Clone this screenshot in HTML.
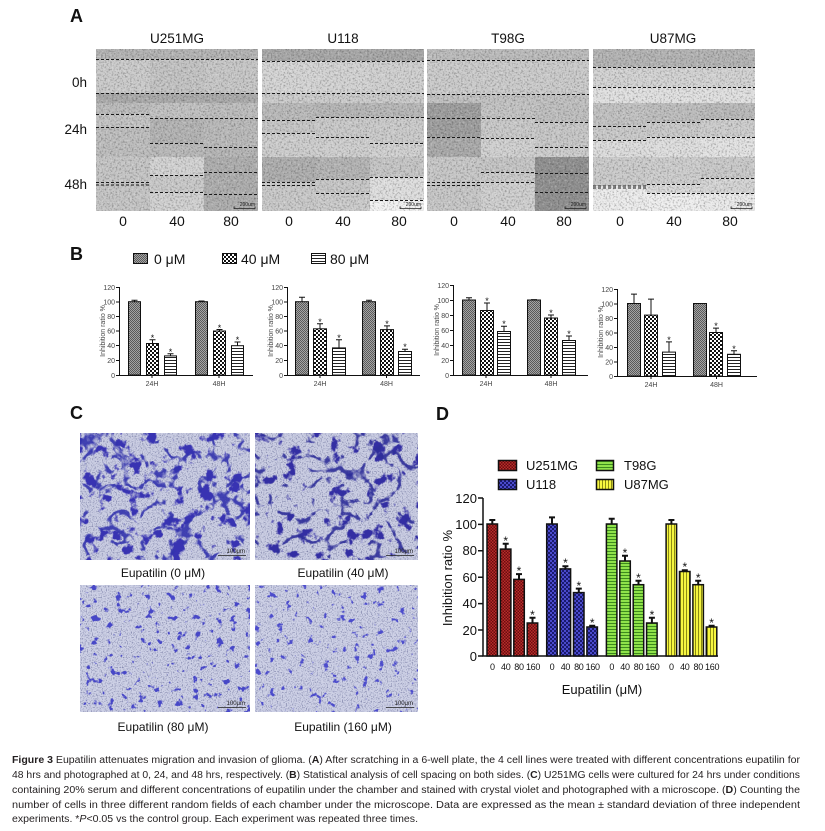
<!DOCTYPE html>
<html><head><meta charset="utf-8"><style>
html,body{margin:0;padding:0;background:#fff;}
svg{display:block;font-family:"Liberation Sans",Arial,sans-serif;}
</style></head><body>
<svg width="825" height="831" viewBox="0 0 825 831" xmlns="http://www.w3.org/2000/svg">
<defs>
<filter id="nA" x="0" y="0" width="100%" height="100%" color-interpolation-filters="sRGB">
<feTurbulence type="fractalNoise" baseFrequency="0.55" numOctaves="2" seed="3"/>
<feColorMatrix type="matrix" values="0 0 0 0 0.2  0 0 0 0 0.2  0 0 0 0 0.2  2.5 0 0 0 -1.2"/>
</filter>
<filter id="nAw" x="0" y="0" width="100%" height="100%" color-interpolation-filters="sRGB">
<feTurbulence type="fractalNoise" baseFrequency="0.5" numOctaves="2" seed="8"/>
<feColorMatrix type="matrix" values="0 0 0 0 1  0 0 0 0 1  0 0 0 0 1  2.5 0 0 0 -1.2"/>
</filter>
<filter id="spk" x="0" y="0" width="100%" height="100%" color-interpolation-filters="sRGB">
<feTurbulence type="fractalNoise" baseFrequency="0.8" numOctaves="1" seed="4"/>
<feColorMatrix type="matrix" values="0 0 0 0 0.35  0 0 0 0 0.37  0 0 0 0 0.55  3 0 0 0 -1.45"/>
</filter>
<filter id="bl1" x="0" y="0" width="100%" height="100%" color-interpolation-filters="sRGB">
<feTurbulence type="fractalNoise" baseFrequency="0.07" numOctaves="4" seed="9"/>
<feColorMatrix type="matrix" values="0 0 0 0 0.22  0 0 0 0 0.2  0 0 0 0 0.7  10 0 0 0 -5.8"/>
</filter>
<filter id="bl2" x="0" y="0" width="100%" height="100%" color-interpolation-filters="sRGB">
<feTurbulence type="fractalNoise" baseFrequency="0.07" numOctaves="4" seed="13"/>
<feColorMatrix type="matrix" values="0 0 0 0 0.2  0 0 0 0 0.18  0 0 0 0 0.64  10 0 0 0 -6.0"/>
</filter>
<filter id="vn1" x="0" y="0" width="100%" height="100%" color-interpolation-filters="sRGB">
<feTurbulence type="turbulence" baseFrequency="0.035" numOctaves="3" seed="21"/>
<feColorMatrix type="matrix" values="0 0 0 0 0.2  0 0 0 0 0.2  0 0 0 0 0.68  -12 0 0 0 2.0"/>
</filter>
<filter id="vn2" x="0" y="0" width="100%" height="100%" color-interpolation-filters="sRGB">
<feTurbulence type="turbulence" baseFrequency="0.035" numOctaves="3" seed="27"/>
<feColorMatrix type="matrix" values="0 0 0 0 0.18  0 0 0 0 0.18  0 0 0 0 0.6  -12 0 0 0 2.0"/>
</filter>
<filter id="bs1" x="0" y="0" width="100%" height="100%" color-interpolation-filters="sRGB">
<feTurbulence type="fractalNoise" baseFrequency="0.13" numOctaves="3" seed="5"/>
<feColorMatrix type="matrix" values="0 0 0 0 0.28  0 0 0 0 0.28  0 0 0 0 0.78  12 0 0 0 -7.7"/>
</filter>
<filter id="bs2" x="0" y="0" width="100%" height="100%" color-interpolation-filters="sRGB">
<feTurbulence type="fractalNoise" baseFrequency="0.13" numOctaves="3" seed="17"/>
<feColorMatrix type="matrix" values="0 0 0 0 0.3  0 0 0 0 0.3  0 0 0 0 0.8  12 0 0 0 -7.9"/>
</filter>
<pattern id="pG" width="2" height="2" patternUnits="userSpaceOnUse"><rect width="2" height="2" fill="#a4a4a4"/><rect width="1" height="1" fill="#5a5a5a"/><rect x="1" y="1" width="1" height="1" fill="#5a5a5a"/></pattern>
<pattern id="pC" width="4" height="4" patternUnits="userSpaceOnUse"><rect width="4" height="4" fill="#fff"/><rect width="2" height="2" fill="#111"/><rect x="2" y="2" width="2" height="2" fill="#111"/></pattern>
<pattern id="pS" width="3" height="3" patternUnits="userSpaceOnUse"><rect width="3" height="3" fill="#fff"/><rect width="3" height="1" fill="#222"/></pattern>
<pattern id="pR" width="3" height="3" patternUnits="userSpaceOnUse"><rect width="3" height="3" fill="#b82c2c"/><rect width="1.5" height="1.5" fill="#6a0e0e"/><rect x="1.5" y="1.5" width="1.5" height="1.5" fill="#6a0e0e"/></pattern>
<pattern id="pB" width="4" height="4" patternUnits="userSpaceOnUse"><rect width="4" height="4" fill="#4a4acc"/><rect width="2" height="2" fill="#1a1a6e"/><rect x="2" y="2" width="2" height="2" fill="#1a1a6e"/></pattern>
<pattern id="pGr" width="3" height="3" patternUnits="userSpaceOnUse"><rect width="3" height="3" fill="#8fe24a"/><rect y="2" width="3" height="1" fill="#3d8a1e"/></pattern>
<pattern id="pY" width="3" height="3" patternUnits="userSpaceOnUse"><rect width="3" height="3" fill="#f6f640"/><rect x="2" width="1" height="3" fill="#8c8c14"/></pattern>
</defs>
<rect width="825" height="831" fill="#fff"/>

<!-- ========== PANEL A ========== -->
<text x="70" y="22" font-size="18" font-weight="bold" fill="#111">A</text>
<g font-size="13.5" fill="#111" text-anchor="middle">
<text x="177" y="43">U251MG</text><text x="343" y="43">U118</text><text x="508" y="43">T98G</text><text x="673" y="43">U87MG</text>
</g>
<g font-size="13.5" fill="#111" text-anchor="end">
<text x="87" y="87">0h</text><text x="87" y="134">24h</text><text x="87" y="189">48h</text>
</g>
<g font-size="14" fill="#111" text-anchor="middle">
<text x="123" y="226">0</text><text x="177" y="226">40</text><text x="231" y="226">80</text>
<text x="289" y="226">0</text><text x="343" y="226">40</text><text x="399" y="226">80</text>
<text x="454" y="226">0</text><text x="508" y="226">40</text><text x="564" y="226">80</text>
<text x="620" y="226">0</text><text x="674" y="226">40</text><text x="730" y="226">80</text>
</g>

<g transform="translate(96,0)">
<rect x="0" y="49" width="162" height="10" fill="#b2b2b2"/>
<rect x="0" y="59" width="54" height="34" fill="#cacaca"/><rect x="54" y="59" width="54" height="34" fill="#c2c2c2"/><rect x="108" y="59" width="54" height="34" fill="#c6c6c6"/>
<rect x="0" y="93" width="162" height="10" fill="#a8a8a8"/>
<rect x="0" y="103" width="54" height="11" fill="#bababa"/><rect x="0" y="114" width="54" height="13" fill="#c2c2c2"/><rect x="0" y="127" width="54" height="30" fill="#bcbcbc"/>
<rect x="54" y="103" width="54" height="15" fill="#c0c0c0"/><rect x="54" y="118" width="54" height="25" fill="#b2b2b2"/><rect x="54" y="143" width="54" height="14" fill="#b8b8b8"/>
<rect x="108" y="103" width="54" height="15" fill="#bcbcbc"/><rect x="108" y="118" width="54" height="29" fill="#b8b8b8"/><rect x="108" y="147" width="54" height="10" fill="#b4b4b4"/>
<rect x="0" y="157" width="54" height="54" fill="#c4c4c4"/>
<rect x="54" y="157" width="54" height="18" fill="#d2d2d2"/><rect x="54" y="175" width="54" height="17" fill="#c8c8c8"/><rect x="54" y="192" width="54" height="19" fill="#d0d0d0"/>
<rect x="108" y="157" width="54" height="54" fill="#acacac"/>
<rect x="0" y="49" width="162" height="162" filter="url(#nA)" opacity="0.45"/>
<rect x="0" y="49" width="162" height="162" filter="url(#nAw)" opacity="0.3"/>
<path d="M0 59.5H162M0 93.5H162M0 114.5H54M0 127.5H54M54 118.5H162M54 143.5H108M108 147.5H162M0 182.5H54M0 185H54M54 175.5H108M54 192.5H108M108 172.5H162M108 194.5H162" stroke="#1a1a1a" stroke-width="1" stroke-dasharray="3 2" fill="none"/>
<text x="159" y="206" font-size="5" text-anchor="end" fill="#222">200um</text>
<path d="M138 208.5H159M138 206.5V209M159 206.5V209" stroke="#222" stroke-width="0.7" fill="none"/>
</g>

<g transform="translate(262,0)">
<rect x="0" y="49" width="162" height="12" fill="#a6a6a6"/>
<rect x="0" y="61" width="54" height="32" fill="#d4d4d4"/><rect x="54" y="61" width="54" height="32" fill="#d2d2d2"/><rect x="108" y="61" width="54" height="32" fill="#cfcfcf"/>
<rect x="0" y="93" width="162" height="10" fill="#cacaca"/>
<rect x="0" y="103" width="54" height="17" fill="#b8b8b8"/><rect x="0" y="120" width="54" height="13" fill="#c4c4c4"/><rect x="0" y="133" width="54" height="24" fill="#cccccc"/>
<rect x="54" y="103" width="54" height="14" fill="#b4b4b4"/><rect x="54" y="117" width="54" height="20" fill="#c8c8c8"/><rect x="54" y="137" width="54" height="20" fill="#cecece"/>
<rect x="108" y="103" width="54" height="14" fill="#b6b6b6"/><rect x="108" y="117" width="54" height="26" fill="#cacaca"/><rect x="108" y="143" width="54" height="14" fill="#d0d0d0"/>
<rect x="0" y="157" width="54" height="25" fill="#acacac"/><rect x="0" y="182" width="54" height="29" fill="#c8c8c8"/>
<rect x="54" y="157" width="54" height="22" fill="#b2b2b2"/><rect x="54" y="179" width="54" height="14" fill="#c6c6c6"/><rect x="54" y="193" width="54" height="18" fill="#cacaca"/>
<rect x="108" y="157" width="54" height="20" fill="#c4c4c4"/><rect x="108" y="177" width="54" height="23" fill="#dedede"/><rect x="108" y="200" width="54" height="11" fill="#f2f2f2"/>
<rect x="0" y="49" width="162" height="162" filter="url(#nA)" opacity="0.45"/>
<rect x="0" y="49" width="162" height="162" filter="url(#nAw)" opacity="0.3"/>
<path d="M0 61.5H162M0 93.5H162M0 120.5H54M0 133.5H54M54 117.5H162M54 137.5H108M108 143.5H162M0 182.5H54M0 185.5H54M54 179.5H108M54 193.5H108M108 177.5H162M108 200.5H162" stroke="#1a1a1a" stroke-width="1" stroke-dasharray="3 2" fill="none"/>
<text x="159" y="206" font-size="5" text-anchor="end" fill="#222">200um</text>
<path d="M138 208.5H159M138 206.5V209M159 206.5V209" stroke="#222" stroke-width="0.7" fill="none"/>
</g>

<g transform="translate(427,0)">
<rect x="0" y="49" width="162" height="11" fill="#bababa"/>
<rect x="0" y="60" width="162" height="34" fill="#cacaca"/>
<rect x="0" y="94" width="162" height="9" fill="#c0c0c0"/>
<rect x="0" y="103" width="54" height="34" fill="#9c9c9c"/><rect x="0" y="137" width="54" height="20" fill="#a8a8a8"/>
<rect x="54" y="103" width="54" height="15" fill="#c2c2c2"/><rect x="54" y="118" width="54" height="20" fill="#c8c8c8"/><rect x="54" y="138" width="54" height="19" fill="#d0d0d0"/>
<rect x="108" y="103" width="54" height="19" fill="#bebebe"/><rect x="108" y="122" width="54" height="25" fill="#c6c6c6"/><rect x="108" y="147" width="54" height="10" fill="#cccccc"/>
<rect x="0" y="157" width="54" height="54" fill="#c6c6c6"/>
<rect x="54" y="157" width="54" height="15" fill="#c4c4c4"/><rect x="54" y="172" width="54" height="10" fill="#c8c8c8"/><rect x="54" y="182" width="54" height="29" fill="#cecece"/>
<rect x="108" y="157" width="54" height="54" fill="#8e8e8e"/>
<rect x="0" y="49" width="162" height="162" filter="url(#nA)" opacity="0.45"/>
<rect x="0" y="49" width="162" height="162" filter="url(#nAw)" opacity="0.3"/>
<path d="M0 60.5H162M0 94.5H162M0 118.5H108M0 137.5H54M54 138.5H108M108 122.5H162M108 147.5H162M0 182.5H54M0 185.5H54M54 172.5H108M54 182.5H108M108 173.5H162M108 192.5H162" stroke="#1a1a1a" stroke-width="1" stroke-dasharray="3 2" fill="none"/>
<text x="159" y="206" font-size="5" text-anchor="end" fill="#222">200um</text>
<path d="M138 208.5H159M138 206.5V209M159 206.5V209" stroke="#222" stroke-width="0.7" fill="none"/>
</g>

<g transform="translate(593,0)">
<rect x="0" y="49" width="162" height="18" fill="#b2b2b2"/>
<rect x="0" y="67" width="162" height="20" fill="#d2d2d2"/>
<rect x="0" y="87" width="162" height="16" fill="#e0e0e0"/>
<rect x="0" y="103" width="54" height="23" fill="#c0c0c0"/><rect x="0" y="126" width="54" height="14" fill="#c8c8c8"/><rect x="0" y="140" width="54" height="17" fill="#dcdcdc"/>
<rect x="54" y="103" width="54" height="19" fill="#bcbcbc"/><rect x="54" y="122" width="54" height="15" fill="#c8c8c8"/><rect x="54" y="137" width="54" height="20" fill="#dedede"/>
<rect x="108" y="103" width="54" height="16" fill="#b8b8b8"/><rect x="108" y="119" width="54" height="18" fill="#cccccc"/><rect x="108" y="137" width="54" height="20" fill="#e2e2e2"/>
<rect x="0" y="157" width="54" height="29" fill="#cacaca"/><rect x="0" y="186" width="54" height="25" fill="#ececec"/>
<rect x="54" y="157" width="54" height="27" fill="#cccccc"/><rect x="54" y="184" width="54" height="9" fill="#d8d8d8"/><rect x="54" y="193" width="54" height="18" fill="#eeeeee"/>
<rect x="108" y="157" width="54" height="21" fill="#c8c8c8"/><rect x="108" y="178" width="54" height="15" fill="#d4d4d4"/><rect x="108" y="193" width="54" height="18" fill="#eaeaea"/>
<rect x="0" y="49" width="162" height="162" filter="url(#nA)" opacity="0.45"/>
<rect x="0" y="49" width="162" height="162" filter="url(#nAw)" opacity="0.3"/>
<path d="M0 67.5H162M0 87.5H162M0 126.5H54M0 140.5H54M54 122.5H108M54 137.5H162M108 119.5H162M0 186H54M0 188H54M54 184.5H108M54 193.5H108M108 178.5H162M108 193.5H162" stroke="#1a1a1a" stroke-width="1" stroke-dasharray="3 2" fill="none"/>
<text x="159" y="206" font-size="5" text-anchor="end" fill="#222">200um</text>
<path d="M138 208.5H159M138 206.5V209M159 206.5V209" stroke="#222" stroke-width="0.7" fill="none"/>
</g>

<!-- ========== PANEL B ========== -->
<text x="70" y="260" font-size="18" font-weight="bold" fill="#111">B</text>
<rect x="133.5" y="253.5" width="14" height="10" fill="url(#pG)" stroke="#111" stroke-width="1"/>
<rect x="222.5" y="253.5" width="14" height="10" fill="url(#pC)" stroke="#111" stroke-width="1"/>
<rect x="311.5" y="253.5" width="14" height="10" fill="url(#pS)" stroke="#111" stroke-width="1"/>
<g font-size="14" fill="#111">
<text x="154" y="264">0 μM</text><text x="241" y="264">40 μM</text><text x="330" y="264">80 μM</text>
</g>

<!-- B1 -->
<g stroke="#111" fill="none" stroke-width="1">
<path d="M119.5 287V375.5H253"/>
<path d="M116 287.5H119.5M116 302H119.5M116 316.5H119.5M116 331H119.5M116 345.5H119.5M116 360.5H119.5M116 375.5H119.5"/>
<path d="M152 375.5V378M219 375.5V378"/>
</g>
<g font-size="7" fill="#444" text-anchor="end">
<text x="115" y="290">120</text><text x="115" y="304.5">100</text><text x="115" y="319">80</text><text x="115" y="333.5">60</text><text x="115" y="348">40</text><text x="115" y="363">20</text><text x="115" y="378">0</text>
</g>
<text transform="translate(105,331) rotate(-90)" font-size="7" fill="#444" text-anchor="middle">Inhibition ratio %</text>
<g font-size="7" fill="#444" text-anchor="middle"><text x="152" y="386">24H</text><text x="219" y="386">48H</text></g>
<g stroke="#111" stroke-width="1">
<rect x="128.5" y="301.7" width="12" height="73.3" fill="url(#pG)"/>
<rect x="146.5" y="343.5" width="12" height="31.5" fill="url(#pC)"/>
<rect x="164.5" y="355.9" width="12" height="19.1" fill="url(#pS)"/>
<rect x="195.5" y="301.7" width="12" height="73.3" fill="url(#pG)"/>
<rect x="213.5" y="331" width="12" height="44" fill="url(#pC)"/>
<rect x="231.5" y="345.7" width="12" height="29.3" fill="url(#pS)"/>
<path d="M134.5 301.7V300.2M131.5 300.2H137.5M152.5 343.5V339.8M149.5 339.8H155.5M170.5 355.9V353.7M167.5 353.7H173.5M201.5 301.7V301M198.5 301H204.5M219.5 331V329.5M216.5 329.5H222.5M237.5 345.7V342M234.5 342H240.5" fill="none"/>
</g>
<g font-size="9" fill="#111" text-anchor="middle"><text x="152.5" y="341">*</text><text x="170.5" y="355">*</text><text x="219.5" y="331">*</text><text x="237.5" y="343">*</text></g>

<!-- B2 -->
<g stroke="#111" fill="none" stroke-width="1">
<path d="M287.5 287V375.5H420"/>
<path d="M284 287.5H287.5M284 302H287.5M284 316.5H287.5M284 331H287.5M284 345.5H287.5M284 360.5H287.5M284 375.5H287.5"/>
<path d="M320 375.5V378M386.5 375.5V378"/>
</g>
<g font-size="7" fill="#444" text-anchor="end">
<text x="283" y="290">120</text><text x="283" y="304.5">100</text><text x="283" y="319">80</text><text x="283" y="333.5">60</text><text x="283" y="348">40</text><text x="283" y="363">20</text><text x="283" y="378">0</text>
</g>
<text transform="translate(273,331) rotate(-90)" font-size="7" fill="#444" text-anchor="middle">Inhibition ratio %</text>
<g font-size="7" fill="#444" text-anchor="middle"><text x="320" y="386">24H</text><text x="386.5" y="386">48H</text></g>
<g stroke="#111" stroke-width="1">
<rect x="295.5" y="301.7" width="13" height="73.3" fill="url(#pG)"/>
<rect x="313.5" y="328.8" width="13" height="46.2" fill="url(#pC)"/>
<rect x="332.5" y="347.9" width="13" height="27.1" fill="url(#pS)"/>
<rect x="362.5" y="301.7" width="13" height="73.3" fill="url(#pG)"/>
<rect x="380.5" y="329.6" width="13" height="45.4" fill="url(#pC)"/>
<rect x="398.5" y="351.5" width="13" height="23.5" fill="url(#pS)"/>
<path d="M302 301.7V297.3M299 297.3H305M320 328.8V323.7M317 323.7H323M339 347.9V339.8M336 339.8H342M369 301.7V300.2M366 300.2H372M387 329.6V325.9M384 325.9H390M405 351.5V349.3M402 349.3H408" fill="none"/>
</g>
<g font-size="9" fill="#111" text-anchor="middle"><text x="320" y="325">*</text><text x="339" y="341">*</text><text x="387" y="327">*</text><text x="405" y="350">*</text></g>

<!-- B3 -->
<g stroke="#111" fill="none" stroke-width="1">
<path d="M453.5 285V375.5H588"/>
<path d="M450 285.5H453.5M450 300.5H453.5M450 315.5H453.5M450 330.5H453.5M450 345.5H453.5M450 360.5H453.5M450 375.5H453.5"/>
<path d="M486 375.5V378M551 375.5V378"/>
</g>
<g font-size="7" fill="#444" text-anchor="end">
<text x="449" y="288">120</text><text x="449" y="303">100</text><text x="449" y="318">80</text><text x="449" y="333">60</text><text x="449" y="348">40</text><text x="449" y="363">20</text><text x="449" y="378">0</text>
</g>
<text transform="translate(439,330) rotate(-90)" font-size="7" fill="#444" text-anchor="middle">Inhibition ratio %</text>
<g font-size="7" fill="#444" text-anchor="middle"><text x="486" y="386">24H</text><text x="551" y="386">48H</text></g>
<g stroke="#111" stroke-width="1">
<rect x="462.5" y="300" width="13" height="75" fill="url(#pG)"/>
<rect x="480.5" y="310.5" width="13" height="64.5" fill="url(#pC)"/>
<rect x="497.5" y="331.5" width="13" height="43.5" fill="url(#pS)"/>
<rect x="527.5" y="300" width="13" height="75" fill="url(#pG)"/>
<rect x="544.5" y="318" width="13" height="57" fill="url(#pC)"/>
<rect x="562.5" y="340.5" width="13" height="34.5" fill="url(#pS)"/>
<path d="M469 300V297.7M466 297.7H472M487 310.5V303M484 303H490M504 331.5V326.2M501 326.2H507M534 299.6H534M531 299.6H537M551 318V315M548 315H554M569 340.5V336M566 336H572" fill="none"/>
</g>
<g font-size="9" fill="#111" text-anchor="middle"><text x="487" y="304">*</text><text x="504" y="327">*</text><text x="551" y="316">*</text><text x="569" y="337">*</text></g>

<!-- B4 -->
<g stroke="#111" fill="none" stroke-width="1">
<path d="M617.5 289V376.5H757"/>
<path d="M614 289.5H617.5M614 304H617.5M614 318.5H617.5M614 333H617.5M614 347.5H617.5M614 362H617.5M614 376.5H617.5"/>
<path d="M651 376.5V379M716.5 376.5V379"/>
</g>
<g font-size="7" fill="#444" text-anchor="end">
<text x="613" y="292">120</text><text x="613" y="306.5">100</text><text x="613" y="321">80</text><text x="613" y="335.5">60</text><text x="613" y="350">40</text><text x="613" y="364.5">20</text><text x="613" y="379">0</text>
</g>
<text transform="translate(603,332) rotate(-90)" font-size="7" fill="#444" text-anchor="middle">Inhibition ratio %</text>
<g font-size="7" fill="#444" text-anchor="middle"><text x="651" y="387">24H</text><text x="716.5" y="387">48H</text></g>
<g stroke="#111" stroke-width="1">
<rect x="627.5" y="303.5" width="13" height="72.5" fill="url(#pG)"/>
<rect x="644.5" y="315.1" width="13" height="60.9" fill="url(#pC)"/>
<rect x="662.5" y="352.1" width="13" height="23.9" fill="url(#pS)"/>
<rect x="693.5" y="303.5" width="13" height="72.5" fill="url(#pG)"/>
<rect x="709.5" y="332.5" width="13" height="43.5" fill="url(#pC)"/>
<rect x="727.5" y="354.3" width="13" height="21.7" fill="url(#pS)"/>
<path d="M634 303.5V294.1M631 294.1H637M651 315.1V299.1M648 299.1H654M669 352.1V341.9M666 341.9H672M716 332.5V328.1M713 328.1H719M734 354.3V350.7M731 350.7H737" fill="none"/>
</g>
<g font-size="9" fill="#111" text-anchor="middle"><text x="669" y="343">*</text><text x="716" y="329">*</text><text x="734" y="352">*</text></g>

<!-- ========== PANEL C ========== -->
<text x="70" y="419" font-size="18" font-weight="bold" fill="#111">C</text>
<g>
<rect x="80" y="433" width="170" height="127" fill="#cbcee3"/>
<rect x="80" y="433" width="170" height="127" filter="url(#spk)" opacity="0.75"/>
<rect x="80" y="433" width="170" height="127" filter="url(#bl1)"/>
<rect x="80" y="433" width="170" height="127" filter="url(#vn1)" opacity="0.9"/>
<rect x="255" y="433" width="163" height="127" fill="#cbcee3"/>
<rect x="255" y="433" width="163" height="127" filter="url(#spk)" opacity="0.75"/>
<rect x="255" y="433" width="163" height="127" filter="url(#bl2)"/>
<rect x="255" y="433" width="163" height="127" filter="url(#vn2)" opacity="0.9"/>
<rect x="80" y="585" width="170" height="127" fill="#ced1e6"/>
<rect x="80" y="585" width="170" height="127" filter="url(#spk)" opacity="0.75"/>
<rect x="80" y="585" width="170" height="127" filter="url(#bs1)"/>
<rect x="255" y="585" width="163" height="127" fill="#ced1e6"/>
<rect x="255" y="585" width="163" height="127" filter="url(#spk)" opacity="0.75"/>
<rect x="255" y="585" width="163" height="127" filter="url(#bs2)"/>
</g>
<g font-size="6" fill="#222" text-anchor="end">
<text x="245" y="553">100μm</text><text x="413" y="553">100μm</text><text x="245" y="705">100μm</text><text x="413" y="705">100μm</text>
</g>
<path d="M218 555.5H246M386 555.5H414M218 707.5H246M386 707.5H414" stroke="#222" stroke-width="0.7"/>
<g font-size="12" fill="#111" text-anchor="middle">
<text x="163" y="577">Eupatilin (0 μM)</text><text x="343" y="577">Eupatilin (40 μM)</text>
<text x="163" y="731">Eupatilin (80 μM)</text><text x="343" y="731">Eupatilin (160 μM)</text>
</g>

<!-- ========== PANEL D ========== -->
<text x="436" y="420" font-size="18" font-weight="bold" fill="#111">D</text>
<g stroke="#111" stroke-width="1.5">
<rect x="498.5" y="460.5" width="18" height="10" fill="url(#pR)"/>
<rect x="498.5" y="479.5" width="18" height="10" fill="url(#pB)"/>
<rect x="596.5" y="460.5" width="17" height="10" fill="url(#pGr)"/>
<rect x="596.5" y="479.5" width="17" height="10" fill="url(#pY)"/>
</g>
<g font-size="13" fill="#111">
<text x="526" y="470">U251MG</text><text x="526" y="489">U118</text><text x="624" y="470">T98G</text><text x="624" y="489">U87MG</text>
</g>
<g stroke="#111" stroke-width="1.5" fill="none">
<path d="M483 498V656H718"/>
<path d="M478 498H483M478 524.4H483M478 550.8H483M478 577.2H483M478 603.6H483M478 630H483M478 656H483"/>
</g>
<g font-size="13" fill="#111" text-anchor="end">
<text x="477" y="503">120</text><text x="477" y="529">100</text><text x="477" y="555">80</text><text x="477" y="582">60</text><text x="477" y="608">40</text><text x="477" y="635">20</text><text x="477" y="661">0</text>
</g>
<text transform="translate(452,578) rotate(-90)" font-size="13" fill="#111" text-anchor="middle">Inhibition ratio %</text>
<g stroke="#111" stroke-width="1.5">
<rect x="487" y="524" width="10.5" height="132" fill="url(#pR)"/>
<rect x="500.4" y="549.1" width="10.5" height="106.9" fill="url(#pR)"/>
<rect x="513.8" y="579.4" width="10.5" height="76.6" fill="url(#pR)"/>
<rect x="527.2" y="623" width="10.5" height="33" fill="url(#pR)"/>
<rect x="546.7" y="524" width="10.5" height="132" fill="url(#pB)"/>
<rect x="560.1" y="568.9" width="10.5" height="87.1" fill="url(#pB)"/>
<rect x="573.5" y="592.6" width="10.5" height="63.4" fill="url(#pB)"/>
<rect x="586.9" y="627" width="10.5" height="29" fill="url(#pB)"/>
<rect x="606.4" y="524" width="10.5" height="132" fill="url(#pGr)"/>
<rect x="619.8" y="561" width="10.5" height="95" fill="url(#pGr)"/>
<rect x="633.2" y="584.7" width="10.5" height="71.3" fill="url(#pGr)"/>
<rect x="646.6" y="623" width="10.5" height="33" fill="url(#pGr)"/>
<rect x="666.1" y="524" width="10.5" height="132" fill="url(#pY)"/>
<rect x="679.5" y="571.5" width="10.5" height="84.5" fill="url(#pY)"/>
<rect x="692.9" y="584.7" width="10.5" height="71.3" fill="url(#pY)"/>
<rect x="706.3" y="627" width="10.5" height="29" fill="url(#pY)"/>
</g>
<g stroke="#111" stroke-width="2" fill="none">
<path d="M492.3 524V520M489.3 520H495.3M505.7 549V543.8M502.7 543.8H508.7M519 579.4V574.1M516 574.1H522M532.5 623V617.7M529.5 617.7H535.5"/>
<path d="M552 524V517.4M549 517.4H555M565.4 569V566.3M562.4 566.3H568.4M578.8 592.6V588.6M575.8 588.6H581.8M592.2 627V625.7M589.2 625.7H595.2"/>
<path d="M611.7 524V518.7M608.7 518.7H614.7M625 561V555.7M622 555.7H628M638.5 584.7V580.7M635.5 580.7H641.5M651.9 623V617.7M648.9 617.7H654.9"/>
<path d="M671.4 524V520M668.4 520H674.4M684.8 571.5V570.2M681.8 570.2H687.8M698.2 584.7V580.7M695.2 580.7H701.2M711.6 627V625.7M708.6 625.7H714.6"/>
</g>
<g font-size="12" fill="#111" text-anchor="middle">
<text x="505.7" y="545">*</text><text x="519" y="575">*</text><text x="532.5" y="619">*</text>
<text x="565.4" y="567">*</text><text x="578.8" y="590">*</text><text x="592.2" y="627">*</text>
<text x="625" y="557">*</text><text x="638.5" y="582">*</text><text x="651.9" y="619">*</text>
<text x="684.8" y="571">*</text><text x="698.2" y="582">*</text><text x="711.6" y="627">*</text>
</g>
<g font-size="9" fill="#111" text-anchor="middle" letter-spacing="-0.3">
<text x="492.3" y="670">0</text><text x="505.7" y="670">40</text><text x="519" y="670">80</text><text x="533" y="670">160</text>
<text x="552" y="670">0</text><text x="565.4" y="670">40</text><text x="578.8" y="670">80</text><text x="592.7" y="670">160</text>
<text x="611.7" y="670">0</text><text x="625" y="670">40</text><text x="638.5" y="670">80</text><text x="652.4" y="670">160</text>
<text x="671.4" y="670">0</text><text x="684.8" y="670">40</text><text x="698.2" y="670">80</text><text x="712.1" y="670">160</text>
</g>
<text x="602" y="694" font-size="13" fill="#111" text-anchor="middle">Eupatilin (μM)</text>

<!-- ========== CAPTION ========== -->
<g font-size="10" fill="#231f20">
<text x="12" y="763" textLength="788" lengthAdjust="spacingAndGlyphs"><tspan font-weight="bold">Figure 3</tspan> Eupatilin attenuates migration and invasion of glioma. (<tspan font-weight="bold">A</tspan>) After scratching in a 6-well plate, the 4 cell lines were treated with different concentrations eupatilin for</text>
<text x="12" y="778" textLength="788" lengthAdjust="spacingAndGlyphs">48 hrs and photographed at 0, 24, and 48 hrs, respectively. (<tspan font-weight="bold">B</tspan>) Statistical analysis of cell spacing on both sides. (<tspan font-weight="bold">C</tspan>) U251MG cells were cultured for 24 hrs under conditions</text>
<text x="12" y="793" textLength="788" lengthAdjust="spacingAndGlyphs">containing 20% serum and different concentrations of eupatilin under the chamber and stained with crystal violet and photographed with a microscope. (<tspan font-weight="bold">D</tspan>) Counting the</text>
<text x="12" y="808" textLength="788" lengthAdjust="spacingAndGlyphs">number of cells in three different random fields of each chamber under the microscope. Data are expressed as the mean ± standard deviation of three independent</text>
<text x="12" y="822" textLength="406" lengthAdjust="spacingAndGlyphs">experiments. *<tspan font-style="italic">P</tspan>&lt;0.05 vs the control group. Each experiment was repeated three times.</text>
</g>
</svg>
</body></html>
